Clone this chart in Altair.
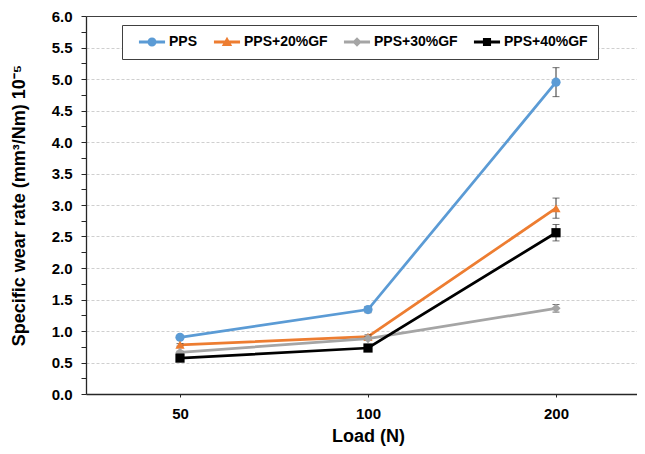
import altair as alt
import pandas as pd

# ---------------- data ----------------
loads = ["50", "100", "200"]
series = ["PPS", "PPS+20%GF", "PPS+30%GF", "PPS+40%GF"]

pps = [0.90, 1.34, 4.95]
pps20 = [0.78, 0.91, 2.95]
pps30 = [0.66, 0.88, 1.36]
pps40 = [0.57, 0.73, 2.56]

err_pps = [0.02, 0.05, 0.23]
err_pps20 = [0.02, 0.03, 0.16]
err_pps30 = [0.02, 0.03, 0.06]
err_pps40 = [0.02, 0.03, 0.13]

y_tick_values = [0.0, 0.25, 0.5, 0.75, 1.0, 1.25, 1.5, 1.75, 2.0, 2.25, 2.5, 2.75,
                 3.0, 3.25, 3.5, 3.75, 4.0, 4.25, 4.5, 4.75, 5.0, 5.25, 5.5, 5.75, 6.0]

x_title = "Load (N)"
y_title = "Specific wear rate (mm³/Nm) 10⁻⁵"

# ---------------- styles ----------------
colors = ["#5B9BD5", "#ED7D31", "#A5A5A5", "#000000"]
shapes = ["circle", "triangle-up", "diamond", "square"]
# legend symbols: a short line with the marker in its middle
bar = "M-2.9,-0.33H2.9V0.33H-2.9Z"
legend_shapes = [
    bar + "M1,0A1,1 0 1,1 -1,0A1,1 0 1,1 1,0Z",
    bar + "M0,-1.15L1.15,0.9H-1.15Z",
    bar + "M0,-1.05L1.05,0L0,1.05L-1.05,0Z",
    bar + "M-0.9,-0.9H0.9V0.9H-0.9Z",
]
FONT = "Liberation Sans"
AXIS_COLOR = "#262626"
HALF = "(datum.value * 4) % 2 == 0"
TOP = "datum.value >= 5.99"

values = [pps, pps20, pps30, pps40]
errors = [err_pps, err_pps20, err_pps30, err_pps40]
rows = []
for s, vals, errs in zip(series, values, errors):
    for i, (ld, v, e) in enumerate(zip(loads, vals, errs)):
        rows.append({"series": s, "load": ld, "idx": i, "value": v,
                     "low": v - e, "high": v + e})
df = pd.DataFrame(rows)

x_scale = alt.Scale(type="point", domain=loads, range=[0, 564], padding=0.5)
y_scale = alt.Scale(domain=[0, 6], nice=False, zero=True)

x_axis = alt.Axis(title=x_title, orient="bottom", labelAngle=0, labelFont=FONT,
                  labelFontSize=15, labelFontWeight="bold", labelColor="black", tickSize=3,
                  tickColor=AXIS_COLOR, labelPadding=9, domainColor=AXIS_COLOR,
                  domainWidth=1.5, grid=False, titleFont=FONT, titleFontSize=18,
                  titleFontWeight="bold", titleColor="black", titlePadding=6)
y_axis = alt.Axis(
    title=y_title, orient="left", values=y_tick_values,
    labelExpr=HALF + " ? format(datum.value, '.1f') : ''",
    labelOverlap=False,
    labelFont=FONT, labelFontSize=15, labelFontWeight="bold", labelColor="black",
    labelPadding=9, tickSize=5, tickColor=AXIS_COLOR, domainColor=AXIS_COLOR,
    domainWidth=1.3, grid=True, gridWidth=1,
    gridColor={"condition": {"test": TOP, "value": "#404040"}, "value": "#cfcfcf"},
    gridDash={"condition": {"test": TOP, "value": []}, "value": [3, 2]},
    gridOpacity={"condition": {"test": HALF, "value": 1}, "value": 0},
    titleFont=FONT, titleFontSize=18, titleFontWeight="bold", titleColor="black",
    titlePadding=23,
)
# the other layers carry a hidden axis on the same side
x_blank = alt.Axis(title=None, orient="bottom", domain=False, ticks=False, labels=False,
                   grid=False)
y_blank = alt.Axis(title=None, orient="left", domain=False, ticks=False, labels=False,
                   grid=False)


def xq(field="load:N"):
    return alt.X(field, scale=x_scale, sort=loads, axis=x_blank)


def yq(field):
    return alt.Y(field, scale=y_scale, axis=y_blank)


color_plain = alt.Color("series:N", scale=alt.Scale(domain=series, range=colors), legend=None)

base = alt.Chart(df)

lines = base.mark_line(strokeWidth=2.75).encode(
    x=alt.X("load:N", scale=x_scale, sort=loads, axis=x_axis),
    y=alt.Y("value:Q", scale=y_scale, axis=y_axis),
    color=color_plain, order=alt.Order("idx:Q"), detail="series:N",
)

err_rule = base.mark_rule(color="#333333", strokeWidth=1).encode(
    x=xq(), y=yq("low:Q"), y2="high:Q",
)
err_lo = base.mark_tick(color="#333333", size=7, thickness=1, orient="horizontal").encode(
    x=xq(), y=yq("low:Q")
)
err_hi = base.mark_tick(color="#333333", size=7, thickness=1, orient="horizontal").encode(
    x=xq(), y=yq("high:Q")
)

points = base.mark_point(filled=True, size=85, opacity=1, strokeWidth=0).encode(
    x=xq(), y=yq("value:Q"),
    color=color_plain,
    shape=alt.Shape("series:N", scale=alt.Scale(domain=series, range=shapes), legend=None),
)

legend = alt.Legend(
    title=" ", titleOrient="left", titleFontSize=1, titlePadding=13,
    orient="none", legendX=36, legendY=9, direction="horizontal",
    labelFont=FONT, labelFontSize=14, labelFontWeight="bold", labelColor="black",
    strokeColor="#404040", fillColor="white", padding=10, columnPadding=15,
    symbolSize=81, symbolStrokeWidth=0, labelOffset=10, symbolOffset=0,
)
legend_layer = base.transform_filter("false").mark_point(filled=True, size=81, opacity=1).encode(
    x=xq(), y=yq("value:Q"),
    color=alt.Color("series:N", scale=alt.Scale(domain=series, range=colors), legend=legend),
    shape=alt.Shape("series:N", scale=alt.Scale(domain=series, range=legend_shapes), legend=legend),
)

chart = (
    alt.layer(lines, err_rule, err_lo, err_hi, points, legend_layer)
    .resolve_scale(color="independent", shape="independent")
    .resolve_axis(x="independent", y="independent")
    .resolve_legend(color="independent", shape="independent")
    .properties(
        width=551, height=378,
        autosize=alt.AutoSizeParams(type="none"),
        padding={"left": 78, "top": 8, "right": 0, "bottom": 52},
        background="white",
    )
    .configure_view(stroke=None)
)

chart.save("out.html", embed_options={"renderer": "svg", "actions": False})
